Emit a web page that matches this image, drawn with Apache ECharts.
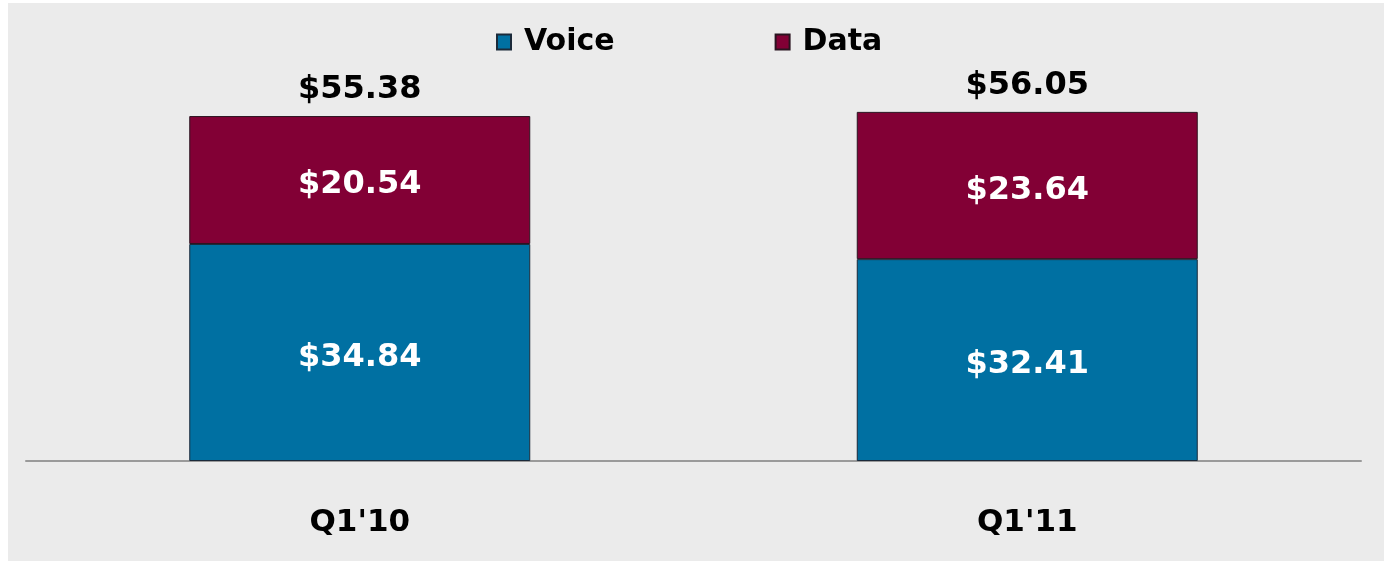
<!DOCTYPE html>
<html>
<head>
<meta charset="UTF-8">
<title>ARPU</title>
<script type="text/javascript" src="https://cdn.jsdelivr.net/npm/echarts@6/dist/echarts.min.js"></script>
<style>
	html,body{margin:0;padding:0;background:#fff;}
	#main{position:absolute;left:8px;top:3px;width:1376px;height:558px;}
</style>
</head>
<body>
	<div id="main"></div>
<script type="text/javascript">
	var categories = ["Q1'10", "Q1'11"];
	var voice = [34.84, 32.41];
	var data = [20.54, 23.64];
	var totals = [55.38, 56.05];

	var font = "'DejaVu Sans', Verdana, sans-serif";
	function money(v){
		return "$" + v.toFixed(2);
	}

	var myChart = echarts.init(document.getElementById('main'));
	var option = {
		backgroundColor: '#ebebeb',
		animation: false,
		legend: {
			left: 483,
			top: 19,
			itemWidth: 14,
			itemHeight: 15,
			itemGap: 160,
			icon: 'rect',
			textStyle: {fontFamily: font, fontWeight: 'bold', fontSize: 30, color: '#000', padding: [0, 0, 0, 8]},
			data: ['Voice', 'Data']
		},
		grid: {left: 18, right: 23, top: 22, bottom: 100},
		xAxis: {
			type: 'category',
			data: categories,
			axisLine: {lineStyle: {color: '#9a9a9a', width: 2}},
			axisTick: {show: false},
			axisLabel: {fontFamily: font, fontWeight: 'bold', fontSize: 31, color: '#000', margin: 46}
		},
		yAxis: {
			type: 'value',
			min: 0,
			max: 70,
			show: false,
			splitLine: {show: false}
		},
		series: [
			{
				name: 'Voice',
				type: 'bar',
				stack: 'arpu',
				barWidth: 341,
				data: voice,
				itemStyle: {color: '#0070a2', borderColor: '#1b2a3a', borderWidth: 1},
				label: {
					show: true,
					position: 'inside',
					offset: [0, 5],
					formatter: function (p){ return money(p.value); },
					fontFamily: font, fontWeight: 'bold', fontSize: 32, color: '#fff'
				}
			},
			{
				name: 'Data',
				type: 'bar',
				stack: 'arpu',
				barWidth: 341,
				data: data,
				itemStyle: {color: '#820035', borderColor: '#2a1420', borderWidth: 1},
				label: {
					show: true,
					position: 'inside',
					offset: [0, 5],
					formatter: function (p){ return money(p.value); },
					fontFamily: font, fontWeight: 'bold', fontSize: 32, color: '#fff'
				}
			},
			{
				name: 'Total',
				type: 'bar',
				stack: 'arpu',
				barWidth: 341,
				data: [0, 0],
				itemStyle: {color: 'transparent'},
				label: {
					show: true,
					position: 'top',
					distance: 10,
					formatter: function (p){ return money(totals[p.dataIndex]); },
					fontFamily: font, fontWeight: 'bold', fontSize: 32, color: '#000'
				}
			}
		]
	};
	myChart.setOption(option);
</script>
</body>
</html>
